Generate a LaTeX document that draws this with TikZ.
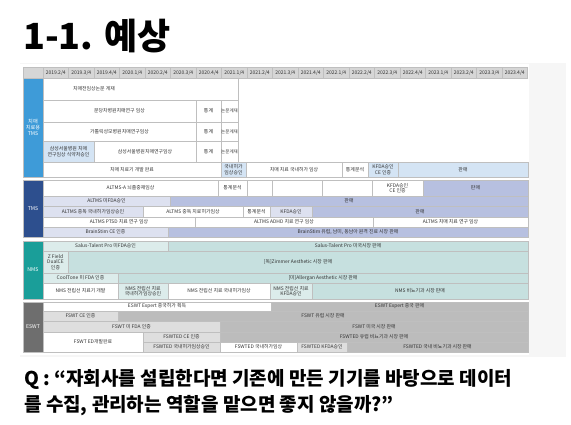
\documentclass[tikz,border=0pt]{standalone}
\usepackage{fontspec}
\setmainfont{Noto Sans CJK KR}
\usetikzlibrary{positioning}

\definecolor{dmblue}{HTML}{3E9BD8}
\definecolor{dmlight}{HTML}{D4E4F4}
\definecolor{tmsnavy}{HTML}{2D4F8E}
\definecolor{tmslight}{HTML}{DDE1F0}
\definecolor{tmsmid}{HTML}{B7C0E0}
\definecolor{nmsteal}{HTML}{1A9E99}
\definecolor{nmslight}{HTML}{DCECEB}
\definecolor{nmsmid}{HTML}{C6E0DF}
\definecolor{eswtgray}{HTML}{6E6E6E}
\definecolor{eswtlight}{HTML}{DEDEDE}
\definecolor{eswtmid}{HTML}{BCBCBC}
\definecolor{headgray}{HTML}{D6D6D6}
\definecolor{gridline}{HTML}{BFBFBF}
\definecolor{celltext}{HTML}{333333}
\definecolor{panel}{HTML}{F6F6F6}

\begin{document}
\begin{tikzpicture}[x=1pt,y=-1pt,
    cell/.style={
      draw=gridline,
      line width=0.3pt,
      inner sep=0pt,
      align=center,
      text=celltext,
      font=\fontsize{4.9}{5.4}\selectfont
    },
    side/.style={
      draw=gridline,
      line width=0.3pt,
      inner sep=0pt,
      align=center,
      text=white,
      minimum width=20pt,
      font=\fontsize{5.2}{6.2}\selectfont
    },
    head/.style={
      cell,
      fill=headgray,
      minimum width=25.5pt,
      minimum height=11pt,
      font=\fontsize{5}{5.5}\selectfont
    }
  ]
  \useasboundingbox (0,0) rectangle (571,425);
  \fill[white] (0,0) rectangle (571,425);
  \fill[panel] (20,63) rectangle (566,357);
  \fill[white] (20,64) rectangle (529,355);

  \node[anchor=base west,inner sep=0pt,font=\fontsize{36}{40}\selectfont\bfseries]
    (title) at (23,50) {1-1. 예상};

  % header
  \node[head,minimum width=20pt] (h0) at (33,72.5) {};
  \foreach \q [count=\i] in {2019.2/4,2019.3/4,2019.4/4,2020.1/4,2020.2/4,2020.3/4,
      2020.4/4,2021.1/4,2021.2/4,2021.3/4,2021.4/4,2022.1/4,2022.2/4,2022.3/4,
      2022.4/4,2023.1/4,2023.2/4,2023.3/4,2023.4/4}
    \node[head] (h\i) at ({43+25.5*(\i-0.5)},72.5) {\q};

  % left labels
  \node[side,fill=dmblue,minimum height=99pt] (dm) at (33,127.5) {치매\\치료용\\TMS};
  \node[side,fill=tmsnavy,minimum height=57pt] (tms) at (33,208.5) {TMS};
  \node[side,fill=nmsteal,minimum height=58pt] (nms) at (33,270) {NMS};
  \node[side,fill=eswtgray,minimum height=50pt] (eswt) at (33,327) {ESWT};

  % cells: x1/y1/x2/y2/fill/text
  \foreach \xa/\ya/\xb/\yb/\f/\t [count=\i] in {
      43/78/238/100/white/{},
      43/100/196/122/white/{분당차병원치매연구 임상},
      196/100/221/122/white/{통계},
      221/100/238/122/white/{\fontsize{4.5}{5}\selectfont 논문게재},
      43/122/196/141/white/{가톨릭성모병원치매연구임상},
      196/122/221/141/white/{통계},
      221/122/238/141/white/{\fontsize{4.5}{5}\selectfont 논문게재},
      43/141/94/162/dmlight/{삼성서울병원 치매\\연구임상 식약처승인},
      94/141/196/162/white/{삼성서울병원치매연구임상},
      196/141/221/162/white/{통계},
      221/141/238/162/white/{\fontsize{4.5}{5}\selectfont 논문게재},
      43/162/221/177/white/{치매 치료기 개발 완료},
      221/162/246/177/dmlight/{국내허가\\임상승인},
      246/162/342/177/white/{치매 치료 국내허가 임상},
      342/162/368/177/white/{통계분석},
      368/162/398/177/dmlight/{KFDA승인\\CE 인증},
      398/162/528/177/dmlight/{판매}}
    \node[cell,fill=\f,minimum width={(\xb-\xa)*1pt},minimum height={(\yb-\ya)*1pt}]
      (d\i) at ({(\xa+\xb)/2},{(\ya+\yb)/2}) {\t};
  \node[font=\fontsize{4.9}{5.4}\selectfont,text=celltext,inner sep=0pt] (d1t) at (94,89) {치매전임상논문 게재};

  \foreach \xa/\ya/\xb/\yb/\f/\t [count=\i] in {
      43/180/218/196/white/{ALTMS-A 뇌졸중재임상},
      218/180/247/196/white/{통계분석},
      247/180/272/196/white/{},
      272/180/322/196/white/{},
      322/180/372/196/white/{},
      372/180/423/196/white/{KFDA승인\\CE 인증},
      423/180/528/196/tmsmid/{판매},
      43/196/170/206/tmslight/{ALTMS 미FDA승인},
      170/196/528/206/tmsmid/{판매},
      43/206/143/217/tmslight/{ALTMS 중독 국내허가임상승인},
      143/206/243/217/white/{ALTMS 중독 치료허가임상},
      243/206/270/217/white/{통계분석},
      270/206/312/217/tmslight/{KFDA승인},
      312/206/528/217/tmsmid/{판매},
      43/217/195/227/white/{ALTMS PTSD 치료 연구 임상},
      195/217/373/227/white/{ALTMS ADHD 치료 연구 임상},
      373/217/528/227/white/{ALTMS 치매 치료 연구 임상},
      43/227/168/237/tmslight/{BrainStim CE 인증},
      168/227/528/237/tmsmid/{BrainStim 유럽, 남미, 동남아 원격 진료 시장 판매}}
    \node[cell,fill=\f,minimum width={(\xb-\xa)*1pt},minimum height={(\yb-\ya)*1pt}]
      (t\i) at ({(\xa+\xb)/2},{(\ya+\yb)/2}) {\t};

  \foreach \xa/\ya/\xb/\yb/\f/\t [count=\i] in {
      43/241/168/251/nmslight/{Salus-Talent Pro 미FDA승인},
      168/241/528/251/nmsmid/{Salus-Talent Pro 미국시장 판매},
      43/251/68/273/nmslight/{Z Field\\DualCE\\인증},
      68/251/528/273/nmsmid/{[독]Zimmer Aesthetic 시장 판매},
      43/273/118/283/nmslight/{CoolTone 미 FDA 인증},
      118/273/528/283/nmsmid/{[미]Allergan Aesthetic 시장 판매},
      43/283/118/299/white/{NMS 전립선 치료기 개발},
      118/283/168/299/nmslight/{NMS 전립선 치료\\국내허가임상승인},
      168/283/270/299/white/{NMS 전립선 치료 국내허가임상},
      270/283/312/299/nmslight/{NMS 전립선 치료\\KFDA승인},
      312/283/528/299/nmsmid/{NMS 비뇨기과 시장 판매}}
    \node[cell,fill=\f,minimum width={(\xb-\xa)*1pt},minimum height={(\yb-\ya)*1pt}]
      (n\i) at ({(\xa+\xb)/2},{(\ya+\yb)/2}) {\t};

  \foreach \xa/\ya/\xb/\yb/\f/\t [count=\i] in {
      43/302/271/311/white/{ESWT Expert 중국허가 획득},
      271/302/528/311/eswtmid/{ESWT Expert 중국 판매},
      43/311/118/321/eswtlight/{FSWT CE 인증},
      118/311/528/321/eswtmid/{FSWT 유럽 시장 판매},
      43/321/220/332/eswtlight/{FSWT 미 FDA 인증},
      220/321/528/332/eswtmid/{FSWT 미국 시장 판매},
      43/332/143/352/white/{FSWT ED개발완료},
      143/332/220/342/eswtlight/{FSWTED CE 인증},
      220/332/528/342/eswtmid/{FSWTED 유럽 비뇨기과 시장 판매},
      143/342/220/352/eswtlight/{FSWTED 국내허가임상승인},
      220/342/297/352/white/{FSWTED 국내허가임상},
      297/342/347/352/eswtlight/{FSWTED KFDA승인},
      347/342/528/352/eswtmid/{FSWTED 국내 비뇨기과 시장 판매}}
    \node[cell,fill=\f,minimum width={(\xb-\xa)*1pt},minimum height={(\yb-\ya)*1pt}]
      (e\i) at ({(\xa+\xb)/2},{(\ya+\yb)/2}) {\t};

  % question
  \node[anchor=base west,inner sep=0pt,font=\fontsize{19}{26}\selectfont\bfseries]
    (q1) at (24,385) {Q : “자회사를 설립한다면 기존에 만든 기기를 바탕으로 데이터};
  \node[anchor=base west,inner sep=0pt,font=\fontsize{19}{26}\selectfont\bfseries]
    (q2) at ([yshift=-26pt]q1.base west) {를 수집, 관리하는 역할을 맡으면 좋지 않을까?”};
\end{tikzpicture}
\end{document}
